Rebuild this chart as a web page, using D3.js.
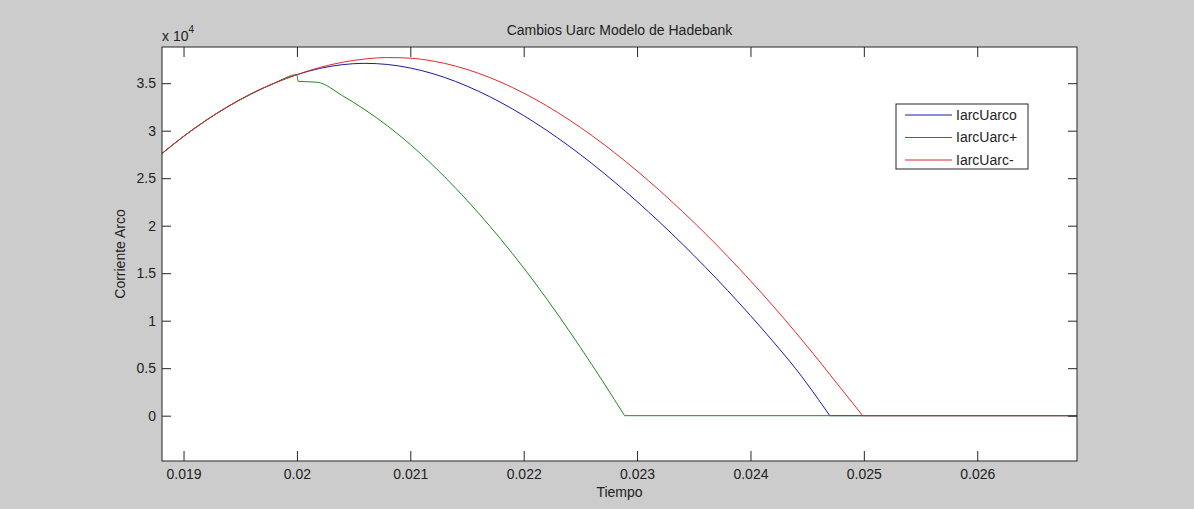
<!DOCTYPE html>
<html>
<head>
<meta charset="utf-8">
<script src="https://cdn.jsdelivr.net/npm/d3@7"></script>
<style>
  body { margin: 0; background: #cccccc; }
  text { font-family: "Liberation Sans", Arial, sans-serif; fill: #222; }
</style>
</head>
<body>
<div id="chart"></div>
<script>
// data (current in units of 1e4 A) -------------------------------
var title = "Cambios Uarc Modelo de Hadebank";
var xLabel = "Tiempo";
var yLabel = "Corriente Arco";
var seriesNames = ["IarcUarco", "IarcUarc+", "IarcUarc-"];

var xTicks = [0.019, 0.02, 0.021, 0.022, 0.023, 0.024, 0.025, 0.026];
var yTicks = [0, 0.5, 1, 1.5, 2, 2.5, 3, 3.5];

// common part before the change at t = 0.02
var tCommon = [0.01881, 0.0190, 0.0192, 0.0194, 0.0196, 0.0198, 0.0200];
var iCommon = [2.76, 2.94, 3.11, 3.26, 3.39, 3.50, 3.59];

// IarcUarco (blue)
var tUarco = [0.0202, 0.0204, 0.0206, 0.0208, 0.0210, 0.0212, 0.0214, 0.0216, 0.0218, 0.0220,
              0.0222, 0.0224, 0.0226, 0.0228, 0.0230, 0.0232, 0.0234, 0.0236, 0.0238, 0.0240,
              0.0242, 0.0244, 0.0246, 0.02470, 0.02688];
var iUarco = [3.655, 3.695, 3.709, 3.697, 3.66, 3.60, 3.518, 3.416, 3.296, 3.159,
              3.006, 2.838, 2.656, 2.461, 2.254, 2.036, 1.807, 1.567, 1.316, 1.054,
              0.78, 0.493, 0.17, 0, 0];

// IarcUarc+ (green)
var tPlus = [0.02001, 0.02018, 0.0204, 0.0206, 0.0208, 0.0210, 0.0212, 0.0214, 0.0216, 0.0218,
             0.0220, 0.0222, 0.0224, 0.0226, 0.0228, 0.02289, 0.02688];
var iPlus = [3.52, 3.51, 3.37, 3.22, 3.05, 2.855, 2.635, 2.395, 2.135, 1.855,
             1.555, 1.235, 0.895, 0.54, 0.17, 0, 0];

// IarcUarc- (red)
var tMinus = [0.0202, 0.0204, 0.0206, 0.0208, 0.0210, 0.0212, 0.0214, 0.0216, 0.0218, 0.0220,
              0.0222, 0.0224, 0.0226, 0.0228, 0.0230, 0.0232, 0.0234, 0.0236, 0.0238, 0.0240,
              0.0242, 0.0244, 0.0246, 0.0248, 0.02499, 0.02688];
var iMinus = [3.665, 3.72, 3.755, 3.77, 3.763, 3.733, 3.68, 3.605, 3.51, 3.396,
              3.264, 3.115, 2.95, 2.77, 2.576, 2.369, 2.15, 1.919, 1.676, 1.421,
              1.154, 0.875, 0.584, 0.284, 0, 0];

var colors = ["#1a1aa8", "#1f8a1f", "#e02a2a"];

// 1. svg set up ---------------------------------------------------
var svgWidth = 1194;
var svgHeight = 509;
var margin = { top: 47, right: 117, bottom: 48, left: 162 };
var width = svgWidth - margin.left - margin.right;
var height = svgHeight - margin.top - margin.bottom;

var svg = d3.select("#chart").append("svg")
  .attr("width", svgWidth)
  .attr("height", svgHeight);

svg.append("rect").attr("width", svgWidth).attr("height", svgHeight).attr("fill", "#cccccc");

var chartGroup = svg.append("g")
  .attr("transform", `translate(${margin.left}, ${margin.top})`);

chartGroup.append("rect")
  .attr("width", width).attr("height", height)
  .attr("fill", "#ffffff");

// 2. scales -------------------------------------------------------
var xScale = d3.scaleLinear().domain([0.01881, 0.02688]).range([0, width]);
var yScale = d3.scaleLinear().domain([-0.477, 3.881]).range([height, 0]);

// 3. series -------------------------------------------------------
function makeSeries(t, v) {
  var pts = tCommon.map((d, i) => ({ t: d, v: iCommon[i] }));
  return pts.concat(t.map((d, i) => ({ t: d, v: v[i] })));
}
var series = [makeSeries(tUarco, iUarco), makeSeries(tPlus, iPlus), makeSeries(tMinus, iMinus)];

var smooth = d3.line()
  .x(d => xScale(d.t))
  .y(d => yScale(d.v))
  .curve(d3.curveMonotoneX);
var straight = d3.line()
  .x(d => xScale(d.t))
  .y(d => yScale(d.v));

chartGroup.append("clipPath").attr("id", "plotclip")
  .append("rect").attr("width", width).attr("height", height);

var lineGroup = chartGroup.append("g").attr("clip-path", "url(#plotclip)");
// arc part is smooth, the part after the current reaches zero is a flat line
series.forEach((s, i) => {
  var k = s.findIndex(d => d.v === 0);
  var arc = s.slice(0, k + 1);
  var tail = s.slice(k);
  lineGroup.append("path")
    .attr("fill", "none")
    .attr("stroke", colors[i])
    .attr("stroke-width", 1)
    .attr("d", smooth(arc) + straight(tail));
});

// 4. axes (ticks pointing inward, box on) -------------------------
var axisColor = "#262626";
var xAxis = d3.axisBottom(xScale).tickValues(xTicks).tickSizeInner(-10).tickSizeOuter(0)
  .tickPadding(15).tickFormat(d3.format("~g"));
var yAxis = d3.axisLeft(yScale).tickValues(yTicks).tickSizeInner(-9).tickSizeOuter(0)
  .tickPadding(15).tickFormat(d3.format("~g"));

var gx = chartGroup.append("g").attr("transform", `translate(0, ${height})`).call(xAxis);
var gy = chartGroup.append("g").call(yAxis);
var gxTop = chartGroup.append("g").call(d3.axisTop(xScale).tickValues(xTicks).tickSizeInner(-10).tickSizeOuter(0).tickFormat(""));
var gyRight = chartGroup.append("g").attr("transform", `translate(${width}, 0)`)
  .call(d3.axisRight(yScale).tickValues(yTicks).tickSizeInner(-9).tickSizeOuter(0).tickFormat(""));

[gx, gy, gxTop, gyRight].forEach(g => {
  g.select(".domain").remove();
  g.selectAll("line").attr("stroke", axisColor);
  g.selectAll("text").style("font-size", "14px").attr("fill", "#222")
    .style("font-family", "'Liberation Sans', Arial, sans-serif");
});
gx.selectAll("text").attr("dy", "0.71em").attr("y", 8);
gy.selectAll("text").attr("x", -6);

chartGroup.append("rect")
  .attr("width", width).attr("height", height)
  .attr("fill", "none").attr("stroke", axisColor).attr("stroke-width", 1);

// exponent label
var expText = svg.append("text")
  .attr("x", margin.left)
  .attr("y", 41)
  .style("font-size", "14px");
expText.append("tspan").text("x 10");
expText.append("tspan").attr("dy", -8).style("font-size", "10px").text("4");

// 5. labels -------------------------------------------------------
svg.append("text")
  .attr("x", margin.left + width / 2)
  .attr("y", 35)
  .style("text-anchor", "middle")
  .style("font-size", "14px")
  .text(title);

svg.append("text")
  .attr("x", margin.left + width / 2)
  .attr("y", 497)
  .style("text-anchor", "middle")
  .style("font-size", "14px")
  .text(xLabel);

svg.append("text")
  .attr("transform", "rotate(-90)")
  .attr("x", -(margin.top + height / 2))
  .attr("y", 125)
  .style("text-anchor", "middle")
  .style("font-size", "14px")
  .text(yLabel);

// 6. legend -------------------------------------------------------
var legend = svg.append("g").attr("transform", "translate(896, 104)");
legend.append("rect")
  .attr("width", 132).attr("height", 65)
  .attr("fill", "#ffffff").attr("stroke", axisColor);
seriesNames.forEach((name, i) => {
  var yy = 11 + i * 22.5;
  legend.append("line")
    .attr("x1", 9).attr("x2", 56).attr("y1", yy).attr("y2", yy)
    .attr("stroke", colors[i]);
  legend.append("text")
    .attr("x", 60).attr("y", yy).attr("dy", "0.35em")
    .style("font-size", "14px")
    .text(name);
});
</script>
</body>
</html>
